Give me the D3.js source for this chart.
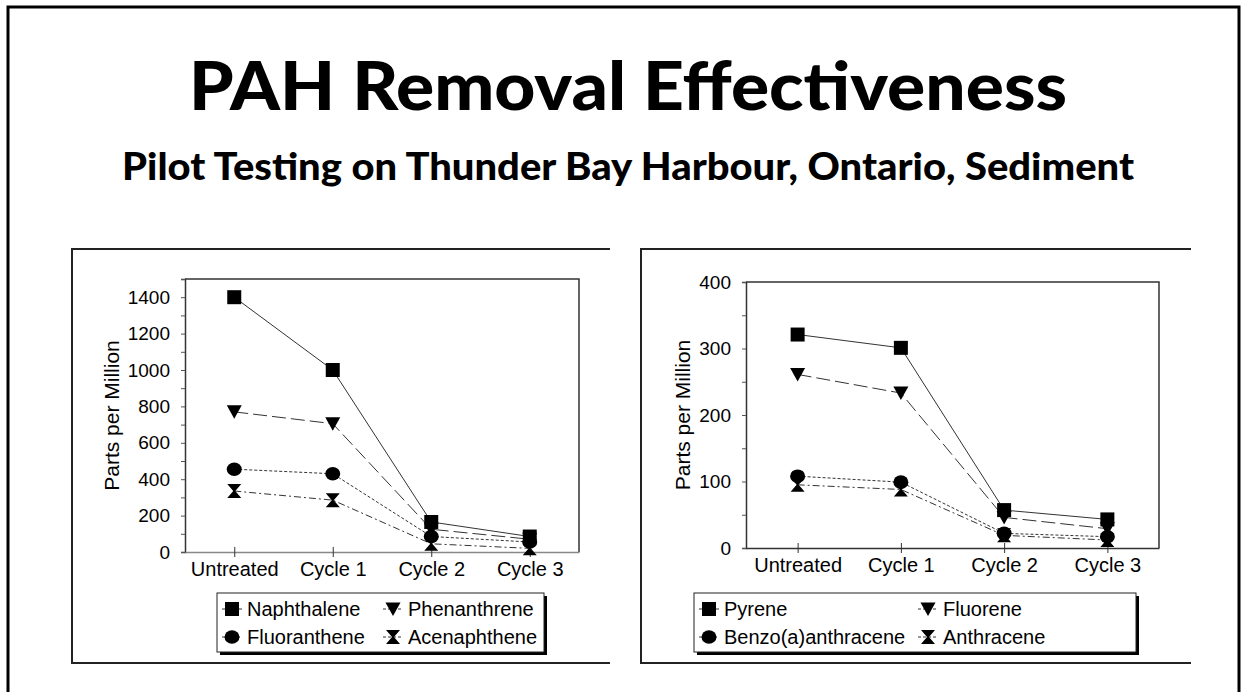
<!DOCTYPE html>
<html>
<head>
<meta charset="utf-8">
<script src="https://cdn.jsdelivr.net/npm/d3@7"></script>
<style>
  body { margin: 0; background: #fff; }
  text { font-family: "Liberation Sans", Arial, sans-serif; fill: #000; }
</style>
</head>
<body>
<script>
var w = 1250;
var h = 692;

var cycles = ["Untreated", "Cycle 1", "Cycle 2", "Cycle 3"];

// left panel
var leftNames = ["Naphthalene", "Phenanthrene", "Fluoranthene", "Acenaphthene"];
var naphthalene = [1400, 1000, 165, 85];
var phenanthrene = [770, 705, 125, 70];
var fluoranthene = [455, 430, 85, 55];
var acenaphthene = [335, 285, 45, 20];
var leftTicks = [0, 200, 400, 600, 800, 1000, 1200, 1400];

// right panel
var rightNames = ["Pyrene", "Fluorene", "Benzo(a)anthracene", "Anthracene"];
var pyrene = [321, 301, 57, 43];
var fluorene = [261, 233, 46, 29];
var benzoAnthracene = [108, 99, 22, 17];
var anthracene = [95, 88, 19, 12];
var rightTicks = [0, 100, 200, 300, 400];

var shapes = ["square", "triangle", "circle", "hourglass"];
var dashes = [null, "14,5", "3,2", "7,3,2,3"];

var svg = d3.select("body")
    .append("svg")
    .attr("width", w)
    .attr("height", h);

svg.append("rect").attr("width", w).attr("height", h).attr("fill", "#fff");

// outer frame (bottom is cut off)
svg.append("path")
    .attr("d", "M8," + h + " V7 H1239 V" + h)
    .attr("fill", "none")
    .attr("stroke", "#000")
    .attr("stroke-width", 3);

svg.append("text")
    .attr("x", 628)
    .attr("y", 110)
    .attr("text-anchor", "middle")
    .attr("textLength", 878)
    .attr("lengthAdjust", "spacingAndGlyphs")
    .style("font-family", "Lato, 'DejaVu Sans', sans-serif")
    .style("font-weight", 900)
    .style("font-size", "66px")
    .text("PAH Removal Effectiveness");

svg.append("text")
    .attr("x", 628)
    .attr("y", 180)
    .attr("text-anchor", "middle")
    .attr("textLength", 1012)
    .attr("lengthAdjust", "spacingAndGlyphs")
    .style("font-family", "Lato, 'DejaVu Sans', sans-serif")
    .style("font-weight", 900)
    .style("font-size", "37px")
    .text("Pilot Testing on Thunder Bay Harbour, Ontario, Sediment");

function markerPath(shape) {
    if (shape == "square") return "M-7,-7H7V7H-7Z";
    if (shape == "triangle") return "M-7.5,-6.5H7.5L0,7Z";
    if (shape == "hourglass") return "M-7,-7H7L1,0L7,7H-7L-1,0Z";
    return null;
}

function addMarker(g, shape, x, y) {
    if (shape == "circle") {
        g.append("ellipse")
            .attr("cx", x).attr("cy", y)
            .attr("rx", 7.5).attr("ry", 6.8)
            .attr("fill", "#000");
    } else {
        g.append("path")
            .attr("d", markerPath(shape))
            .attr("transform", "translate(" + x + "," + y + ")")
            .attr("fill", "#000");
    }
}

function drawChart(opt) {
    var g = svg.append("g");

    // panel border: left, top, bottom only
    g.append("path")
        .attr("d", "M" + opt.panel[2] + "," + opt.panel[1] + " H" + opt.panel[0] +
            " V" + opt.panel[3] + " H" + opt.panel[2])
        .attr("fill", "none")
        .attr("stroke", "#222")
        .attr("stroke-width", 2);

    var x = d3.scalePoint()
        .domain(cycles)
        .range([opt.plot[0], opt.plot[2]])
        .padding(0.5);

    var y = d3.scaleLinear()
        .domain([0, opt.yMax])
        .range([opt.plot[3], opt.plot[1]]);

    // frame top and right
    g.append("path")
        .attr("d", "M" + opt.plot[0] + "," + opt.plot[1] + " H" + opt.plot[2] + " V" + opt.plot[3])
        .attr("fill", "none")
        .attr("stroke", "#333")
        .attr("stroke-width", 1.5);

    var yAxis = d3.axisLeft(y)
        .tickValues(d3.range(0, opt.yMax + 1, opt.minor))
        .tickSize(4)
        .tickFormat(function(d){
            return opt.ticks.indexOf(d) >= 0 ? d : "";
        });
    var ya = g.append("g")
        .attr("transform", "translate(" + opt.plot[0] + ",0)")
        .call(yAxis);
    ya.select(".domain").attr("stroke", "#333").attr("stroke-width", 1.5);
    ya.selectAll(".tick line").attr("stroke", "#555");
    ya.selectAll(".tick text")
        .attr("x", -15)
        .style("font-family", "'Liberation Sans', Arial, sans-serif")
        .style("font-size", "19px");

    var xAxis = d3.axisBottom(x).tickSize(5).tickSizeOuter(0);
    var xa = g.append("g")
        .attr("transform", "translate(0," + opt.plot[3] + ")")
        .call(xAxis);
    xa.select(".domain").attr("stroke", opt.xAxisColor).attr("stroke-width", 1.5);
    xa.selectAll(".tick line").attr("y1", -5).attr("stroke", "#333");
    xa.selectAll(".tick text")
        .attr("y", 10)
        .style("font-family", "'Liberation Sans', Arial, sans-serif")
        .style("font-size", "20px");

    g.append("text")
        .attr("transform", "translate(" + opt.yTitleX + "," + ((opt.plot[1] + opt.plot[3]) / 2) + ") rotate(-90)")
        .attr("text-anchor", "middle")
        .style("font-size", "21px")
        .text("Parts per Million");

    var line = d3.line()
        .x(function(d, i){ return x(cycles[i]); })
        .y(function(d){ return y(d); });

    opt.series.forEach(function(s, k){
        g.append("path")
            .attr("d", line(s))
            .attr("fill", "none")
            .attr("stroke", "#333")
            .attr("stroke-width", 1)
            .attr("stroke-dasharray", dashes[k]);
    });
    opt.series.forEach(function(s, k){
        s.forEach(function(v, i){
            addMarker(g, shapes[k], x(cycles[i]), y(v));
        });
    });

    // legend
    var L = opt.legend;
    g.append("rect")
        .attr("x", L[0] + 3).attr("y", L[1] + 3)
        .attr("width", L[2] - L[0]).attr("height", L[3] - L[1])
        .attr("fill", "#000");
    g.append("rect")
        .attr("x", L[0]).attr("y", L[1])
        .attr("width", L[2] - L[0]).attr("height", L[3] - L[1])
        .attr("fill", "#fff")
        .attr("stroke", "#222")
        .attr("stroke-width", 1);

    opt.names.forEach(function(name, k){
        var mx = L[0] + 15 + (k % 2) * opt.colGap;
        var my = L[1] + 16 + Math.floor(k / 2) * 28;
        g.append("line")
            .attr("x1", mx - 10).attr("x2", mx + 10)
            .attr("y1", my).attr("y2", my)
            .attr("stroke", "#333")
            .attr("stroke-dasharray", dashes[k] ? "3,2" : null);
        addMarker(g, shapes[k], mx, my);
        g.append("text")
            .attr("x", mx + 15)
            .attr("y", my + 7)
            .style("font-size", "20px")
            .text(name);
    });
}

drawChart({
    panel: [72, 249, 610, 663],
    plot: [185, 279, 579, 552],
    yMax: 1500,
    minor: 100,
    ticks: leftTicks,
    yTitleX: 119,
    xAxisColor: "#888",
    series: [naphthalene, phenanthrene, fluoranthene, acenaphthene],
    names: leftNames,
    legend: [217, 593, 544, 652],
    colGap: 161
});

drawChart({
    panel: [641, 249, 1191, 663],
    plot: [746, 282, 1159, 548],
    yMax: 400,
    minor: 50,
    ticks: rightTicks,
    yTitleX: 690,
    xAxisColor: "#333",
    series: [pyrene, fluorene, benzoAnthracene, anthracene],
    names: rightNames,
    legend: [694, 593, 1136, 652],
    colGap: 219
});
</script>
</body>
</html>
